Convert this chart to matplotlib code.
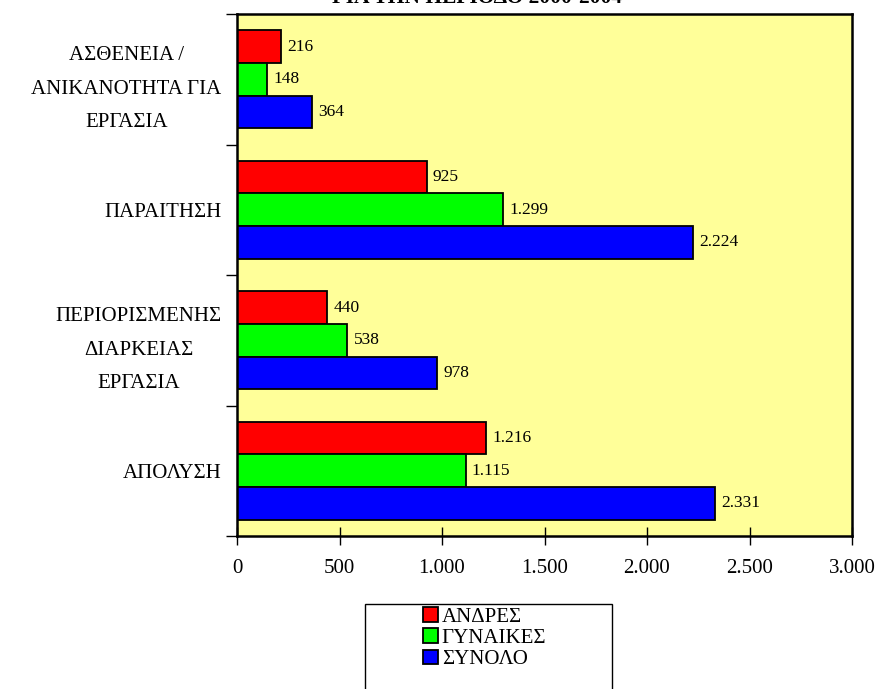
import matplotlib
matplotlib.use("Agg")
import matplotlib.pyplot as plt
import numpy as np
from matplotlib.ticker import FuncFormatter, FixedLocator
from matplotlib.patches import Patch, Rectangle

categories = ["ΑΠΟΛΥΣΗ", "ΠΕΡΙΟΡΙΣΜΕΝΗΣ\nΔΙΑΡΚΕΙΑΣ\nΕΡΓΑΣΙΑ", "ΠΑΡΑΙΤΗΣΗ",
              "ΑΣΘΕΝΕΙΑ /\nΑΝΙΚΑΝΟΤΗΤΑ ΓΙΑ\nΕΡΓΑΣΙΑ"]
series_names = ["ΑΝΔΡΕΣ", "ΓΥΝΑΙΚΕΣ", "ΣΥΝΟΛΟ"]
andres = [1216, 440, 925, 216]
gynaikes = [1115, 538, 1299, 148]
synolo = [2331, 978, 2224, 364]
colors = ["#FF0000", "#00FF00", "#0000FF"]
title = "ΓΙΑ ΤΗΝ ΠΕΡΙΟΔΟ 2000-2004"

plt.rcParams['font.family'] = ['Liberation Serif', 'DejaVu Serif']

fig = plt.figure(figsize=(8.83, 6.89), dpi=100)
W, H = 883, 689
left, right, top, bottom = 237, 852, 14, 536
ax = fig.add_axes([left / W, 1 - bottom / H, (right - left) / W, (bottom - top) / H])
ax.set_facecolor("#FFFF99")

def fmt(v):
    return f"{int(v):,}".replace(",", ".")

y = np.arange(len(categories))
h = 0.25
data = [andres, gynaikes, synolo]
offsets = [h, 0, -h]
for vals, off, c in zip(data, offsets, colors):
    ax.barh(y + off, vals, height=h, color=c, edgecolor="black", linewidth=1.3)
    for yy, v in zip(y + off, vals):
        ax.text(v + 30, yy, fmt(v), va="center", ha="left", fontsize=12.5)

ax.set_xlim(0, 3000)
ax.set_ylim(-0.5, len(categories) - 0.5)
ax.set_xticks(np.arange(0, 3001, 500))
ax.xaxis.set_major_formatter(FuncFormatter(lambda v, p: fmt(v)))
ax.tick_params(axis="x", direction="inout", length=13, width=1, labelsize=15, pad=10)
ax.set_yticks(y)
ax.set_yticklabels(categories, fontsize=15, linespacing=2.05, ha="right",
                   multialignment="center")
ax.tick_params(axis="y", which="major", length=0, pad=11)
ax.yaxis.set_minor_locator(FixedLocator(np.arange(-0.5, len(categories), 1.0)))
ax.tick_params(axis="y", which="minor", length=8, width=1, direction="out")
for s in ax.spines.values():
    s.set_linewidth(1.8)

fig.text(477 / W, 1 + 2 / H, title, ha="center", va="center", fontsize=15.5, fontweight="bold")

# legend box (extends past the bottom edge as in the reference)
fig.patches.append(Rectangle((365 / W, -0.05), (612 - 365) / W, 0.05 + 1 - 604 / H,
                             transform=fig.transFigure, facecolor="white",
                             edgecolor="black", linewidth=1.0, zorder=0))
handles = [Patch(facecolor=c, edgecolor="black", linewidth=1.3) for c in colors]
leg = fig.legend(handles, series_names, loc="upper left",
                 bbox_to_anchor=(423 / W, 1 - 607 / H), bbox_transform=fig.transFigure,
                 frameon=False, fontsize=15,
                 handlelength=0.7, handleheight=0.7, handletextpad=0.2,
                 labelspacing=0.08, borderpad=0.0, borderaxespad=0)

fig.savefig("out.png", dpi=100)
